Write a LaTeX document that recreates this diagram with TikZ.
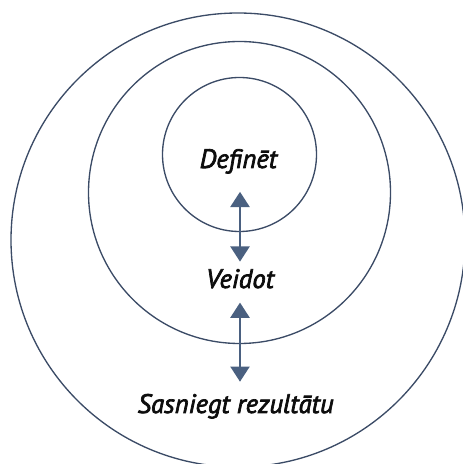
\documentclass[tikz,border=0pt]{standalone}
\usepackage{fontspec}
\setmainfont{PT Sans}
\newfontfamily\lblfont{PT Sans}[FakeBold=2.6]
\usetikzlibrary{arrows.meta, positioning}
\definecolor{ringcol}{HTML}{3B4B66}
\definecolor{arrowcol}{HTML}{4A6080}

\begin{document}
\begin{tikzpicture}[
  ring/.style={draw=ringcol, line width=0.95pt},
  lbl/.style={inner sep=0pt, anchor=base, text=black!95, font=\lblfont\fontsize{19}{22}\selectfont\itshape},
  link/.style={draw=arrowcol, line width=1.3pt, {Triangle[width=4.8mm, length=3.8mm]}-{Triangle[width=4.8mm, length=3.8mm]}}
]
  \useasboundingbox (0,0) rectangle (11.575,11.6);

  % rings
  \draw[ring] (5.95,5.6) circle (5.675);
  \draw[ring] (5.9875,6.7875) circle (3.775);
  \draw[ring] (5.9875,7.7375) circle (1.925);

  % labels
  \node[lbl] (def)  at (5.96,7.4)  {Definēt};
  \node[lbl] (veid) at (6.0,4.4)   {Veidot};
  \node[lbl] (sasn) at (5.89,1.275) {Sasniegt rezultātu};

  \draw[link, shorten <=4.5mm, shorten >=1.8mm] (def.south -| veid.south) -- (veid.north);
  \draw[link, shorten <=3.5mm, shorten >=3mm] (veid.south) -- (veid.south |- sasn.north);
\end{tikzpicture}
\end{document}
